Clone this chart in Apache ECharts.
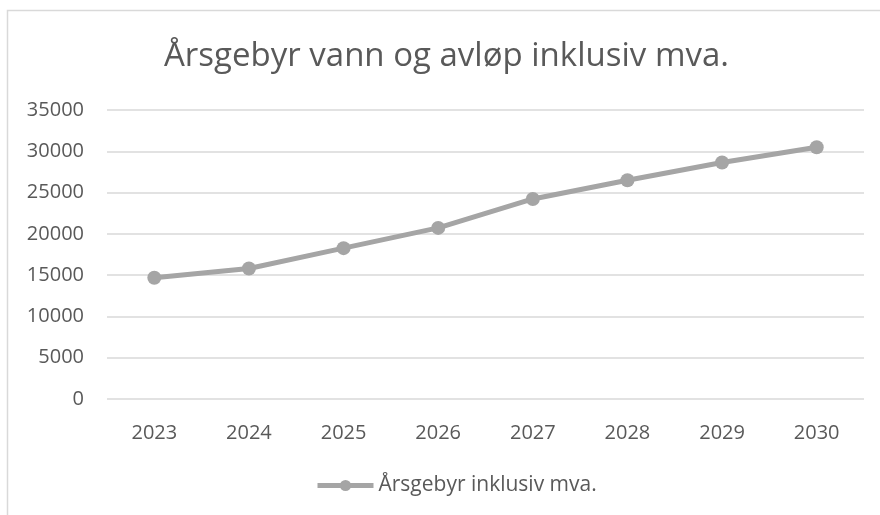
<!DOCTYPE html>
<html>
<head>
<meta charset="utf-8">
<script src="https://cdn.jsdelivr.net/npm/echarts@6/dist/echarts.min.js"></script>
<style>
  html, body { margin: 0; padding: 0; background: #fff; }
  #chart { width: 880px; height: 515px; }
</style>
</head>
<body>
<div id="chart"></div>
<script>
var years = ['2023', '2024', '2025', '2026', '2027', '2028', '2029', '2030'];
var gebyr = [14680, 15810, 18270, 20720, 24230, 26490, 28640, 30490];
var seriesName = 'Årsgebyr inklusiv mva.';

var textColor = '#595959';
var lineColor = '#a5a5a5';
var fontFamily = 'Open Sans';

var myChart = echarts.init(document.getElementById('chart'));
var option = {
  backgroundColor: '#fff',
  graphic: [{
    type: 'rect',
    shape: { x: 7.5, y: 10.5, width: 900, height: 600 },
    style: { fill: 'none', stroke: '#d9d9d9', lineWidth: 1.5 },
    silent: true
  }],
  title: {
    text: 'Årsgebyr vann og avløp inklusiv mva.',
    left: 159,
    top: 35,
    textStyle: { color: textColor, fontSize: 33, fontWeight: 'normal', fontFamily: fontFamily }
  },
  legend: {
    top: 470,
    left: 310,
    itemWidth: 56,
    itemHeight: 14,
    itemGap: 4,
    lineStyle: { width: 5 },
    textStyle: { color: textColor, fontSize: 21, fontFamily: fontFamily },
    data: [seriesName]
  },
  grid: { left: 107, right: 16, top: 110, bottom: 116 },
  xAxis: {
    type: 'category',
    data: years,
    boundaryGap: true,
    axisLine: { show: false },
    axisTick: { show: false },
    axisLabel: { color: textColor, fontSize: 20, margin: 24, fontFamily: fontFamily }
  },
  yAxis: {
    type: 'value',
    min: 0,
    max: 35000,
    interval: 5000,
    axisLine: { show: false },
    axisTick: { show: false },
    axisLabel: {
      color: textColor, fontSize: 20, margin: 23, fontFamily: fontFamily,
      formatter: function (v) { return String(v); }
    },
    splitLine: { lineStyle: { color: '#d9d9d9', width: 1.5 } }
  },
  series: [{
    name: seriesName,
    type: 'line',
    data: gebyr,
    symbol: 'circle',
    symbolSize: 14,
    lineStyle: { color: lineColor, width: 5 },
    itemStyle: { color: lineColor }
  }]
};
myChart.setOption(option);
</script>
</body>
</html>
